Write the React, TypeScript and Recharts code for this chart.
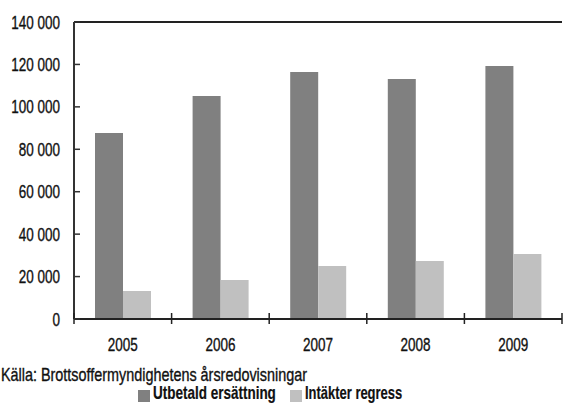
import { BarChart, Bar, XAxis, YAxis, Legend, ReferenceLine } from 'recharts';

const years = ['2005', '2006', '2007', '2008', '2009'];
const utbetald = [87700, 105100, 116400, 113100, 119300];
const regress = [13200, 18400, 25000, 27300, 30600];
const yTicks = [0, 20000, 40000, 60000, 80000, 100000, 120000, 140000];
const source = 'Källa: Brottsoffermyndighetens årsredovisningar';

const data = years.map((year, i) => ({ year, utbetald: utbetald[i], regress: regress[i] }));

const FONT = '"Liberation Sans", Arial, sans-serif';
const W = 563;
const H = 403;
const LEFT = 74;
const RIGHT = 1;
const BAND = (W - LEFT - RIGHT) / years.length;

const fmt = (v: number) => v.toLocaleString('sv-SE').replace(/\u00a0|\u202f/g, ' ');

// the original uses a condensed font, so squeeze a regular one horizontally
function Narrow({ x, y, sx = 0.75, anchor = 'start', bold = false, children }: any) {
  return (
    <text
      transform={`translate(${x},${y}) scale(${sx},1)`}
      textAnchor={anchor}
      fill="#111"
      stroke="#111"
      strokeWidth={bold ? 0.2 : 0.35}
      fontSize={18}
      fontWeight={bold ? 'bold' : 'normal'}
      fontFamily={FONT}
    >
      {children}
    </text>
  );
}

function YTick({ x, y, payload }: any) {
  return (
    <g>
      <line x1={x + 14} x2={x + 20} y1={y} y2={y} stroke="#333" strokeWidth={1.5} />
      <Narrow x={x} y={y + 6.5} anchor="end">{fmt(payload.value)}</Narrow>
    </g>
  );
}

function XTick({ x, y, payload, index }: any) {
  const axisY = y - 14;
  return (
    <g>
      <line x1={x - BAND / 2} x2={x - BAND / 2} y1={axisY - 6} y2={axisY + 5} stroke="#222" strokeWidth={1.5} />
      {index === years.length - 1 && (
        <line x1={x + BAND / 2} x2={x + BAND / 2} y1={axisY - 6} y2={axisY + 5} stroke="#222" strokeWidth={1.5} />
      )}
      <Narrow x={x} y={y + 18} anchor="middle">{payload.value}</Narrow>
    </g>
  );
}

const legendItems = [
  { label: 'Utbetald ersättning', color: '#808080', x: 138, sx: 0.75 },
  { label: 'Intäkter regress', color: '#c0c0c0', x: 290, sx: 0.72 },
];

function LegendContent() {
  return (
    <svg width={W} height={43} style={{ display: 'block', overflow: 'visible' }}>
      <Narrow x={1} y={21} sx={0.8}>{source}</Narrow>
      {legendItems.map((it) => (
        <g key={it.label}>
          <rect x={it.x} y={30} width={12} height={12} fill={it.color} />
          <Narrow x={it.x + 15} y={38.5} sx={it.sx} bold>{it.label}</Narrow>
        </g>
      ))}
    </svg>
  );
}

export default function App() {
  return (
    <div style={{ position: 'absolute', left: 0, top: 0, width: W, height: H, background: '#fff', overflow: 'hidden' }}>
      <BarChart
        width={W}
        height={H}
        data={data}
        margin={{ top: 22, right: RIGHT, left: 0, bottom: 54 }}
        barGap={0}
        barSize={28}
      >
        <XAxis
          dataKey="year"
          axisLine={{ stroke: '#222', strokeWidth: 2 }}
          tickLine={false}
          tickSize={0}
          tickMargin={14}
          tick={<XTick />}
          height={30}
        />
        <YAxis
          domain={[0, 140000]}
          ticks={yTicks}
          width={LEFT}
          axisLine={{ stroke: '#333', strokeWidth: 2 }}
          tickLine={false}
          tickSize={0}
          tickMargin={14}
          tick={<YTick />}
          interval={0}
        />
        <ReferenceLine y={140000} stroke="#222" strokeWidth={2} />
        <Bar dataKey="utbetald" name="Utbetald ersättning" fill="#808080" isAnimationActive={false} />
        <Bar dataKey="regress" name="Intäkter regress" fill="#c0c0c0" isAnimationActive={false} />
        <Legend
          layout="vertical"
          align="center"
          verticalAlign="middle"
          content={<LegendContent />}
          wrapperStyle={{ top: 360, left: 0, width: W, height: 43 }}
        />
      </BarChart>
    </div>
  );
}
